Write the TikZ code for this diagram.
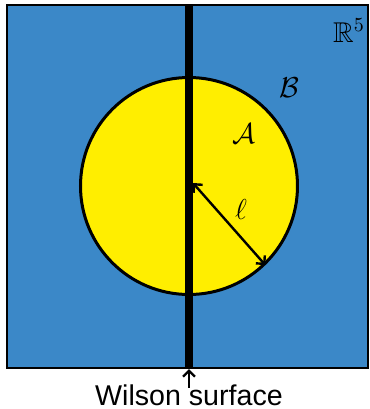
\documentclass[tikz,border=0pt]{standalone}
\usepackage{amssymb}
\usepackage{fontspec}
\newfontfamily\labelsans{Liberation Sans}
\definecolor{bulk}{RGB}{59,136,200}
\definecolor{ball}{RGB}{255,238,0}
\usetikzlibrary{positioning, arrows.meta}

\begin{document}
\begin{tikzpicture}[
  x=0.5pt, y=-0.5pt,
  font=\fontsize{14.3}{17}\selectfont,
  >={Straight Barb[length=3pt, width=6pt]},
  region/.style={draw, rectangle, line width=1pt, fill=bulk, inner sep=0pt, minimum width=180.5pt, minimum height=181.5pt},
  disk/.style={draw, circle, line width=1.5pt, fill=ball, inner sep=0pt, minimum size=108.5pt},
  arr/.style={->, line width=1.2pt}
]
\useasboundingbox (0,0) rectangle (370,409);
\node[region] (space) at (187.5,186.5) {};
\node[disk] (ball) at (189,186) {};
\draw[line width=3.6pt] (ball.center |- space.north) coordinate (wtop) -- (ball.center |- space.south) coordinate (wbot);
\draw[arr, <->] ([shift={(4,-3)}]ball.center) -- (ball.-46);
\node[anchor=base] (ell) at (241,219) {$\ell$};
\node[anchor=base] (A) at (244,143) {$\mathcal{A}$};
\node[anchor=base] (B) at (289,97) {$\mathcal{B}$};
\node[anchor=base] (R) at (349,42) {$\mathbb{R}^5$};
\node[anchor=base, inner sep=0pt] (wilson) at (189,405) {\labelsans Wilson surface};
\draw[arr] ([yshift=-2pt]wilson.north) -- (wbot);
\end{tikzpicture}
\end{document}
